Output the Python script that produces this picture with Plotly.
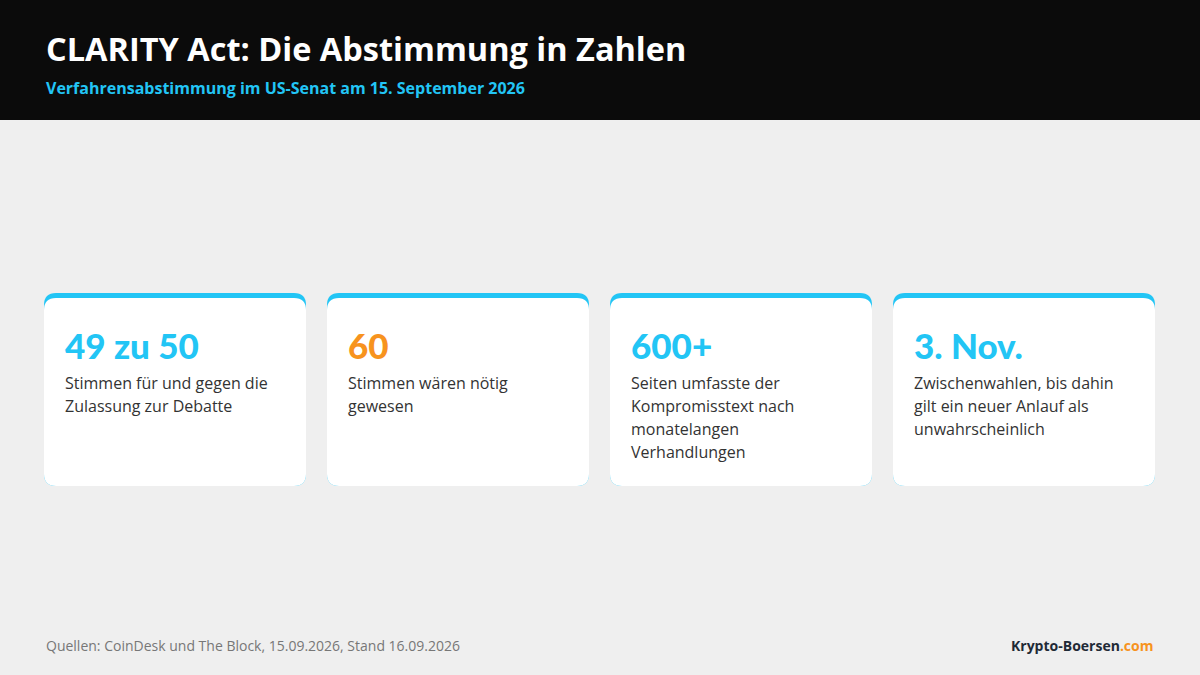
import plotly.graph_objects as go

title = "CLARITY Act: Die Abstimmung in Zahlen"
subtitle = "Verfahrensabstimmung im US-Senat am 15. September 2026"
values = ["49 zu 50", "60", "600+", "3. Nov."]
value_colors = ["#22c5f5", "#f7931e", "#22c5f5", "#22c5f5"]
descriptions = [
    ["Stimmen für und gegen die", "Zulassung zur Debatte"],
    ["Stimmen wären nötig", "gewesen"],
    ["Seiten umfasste der", "Kompromisstext nach", "monatelangen", "Verhandlungen"],
    ["Zwischenwahlen, bis dahin", "gilt ein neuer Anlauf als", "unwahrscheinlich"],
]
source = "Quellen: CoinDesk und The Block, 15.09.2026, Stand 16.09.2026"

W, H = 1200, 675
FONT = "Open Sans"

def rrect(x0, y0, x1, y1, r):
    return (f"M{x0+r},{y0} L{x1-r},{y0} Q{x1},{y0} {x1},{y0+r} L{x1},{y1-r} Q{x1},{y1} {x1-r},{y1} "
            f"L{x0+r},{y1} Q{x0},{y1} {x0},{y1-r} L{x0},{y0+r} Q{x0},{y0} {x0+r},{y0} Z")

shapes = [dict(type="rect", x0=0, x1=W, y0=0, y1=120, fillcolor="#0b0b0b", line_width=0, layer="below")]
ann = [
    dict(x=44, y=48, text=f"<b>{title}</b>", font=dict(size=32.5, color="white", family=FONT)),
    dict(x=44, y=88, text=f"<b>{subtitle}</b>", font=dict(size=16, color="#22c5f5", family=FONT)),
    dict(x=44, y=645, text=source, font=dict(size=14, color="#777", family=FONT)),
    dict(x=1155, y=645, xanchor="right", text="<b>Krypto-Boersen<span style='color:#f7931e'>.com</span></b>",
         font=dict(size=14, color="#1f2a36", family=FONT)),
]
card_w, gap, x_start, y0, y1 = 262, 21, 44, 293, 486
for i, (v, c, d) in enumerate(zip(values, value_colors, descriptions)):
    x0 = x_start + i * (card_w + gap)
    x1 = x0 + card_w
    shapes.append(dict(type="path", path=rrect(x0, y0, x1, y1, 12), fillcolor="#22c5f5", line_width=0))
    shapes.append(dict(type="path", path=rrect(x0, y0 + 5, x1, y1, 12), fillcolor="white", line_width=0))
    ann.append(dict(x=x0 + 19, y=345, text=f"<b>{v}</b>", font=dict(size=35, color=c, family="Lato Black, Lato")))
    for j, line in enumerate(d):
        ann.append(dict(x=x0 + 19, y=383 + 23 * j, text=line, font=dict(size=16, color="#333", family=FONT)))

for a in ann:
    a.setdefault("xanchor", "left")
    a.update(yanchor="middle", showarrow=False, xref="x", yref="y")

fig = go.Figure()
fig.update_layout(
    width=W, height=H, margin=dict(l=0, r=0, t=0, b=0),
    paper_bgcolor="#efefef", plot_bgcolor="#efefef",
    xaxis=dict(range=[0, W], visible=False, fixedrange=True),
    yaxis=dict(range=[H, 0], visible=False, fixedrange=True),
    shapes=shapes, annotations=ann, showlegend=False,
)
fig.write_html("out.html", config={"displayModeBar": False},
               post_script="document.body.style.margin='0';document.body.style.overflow='hidden';")
